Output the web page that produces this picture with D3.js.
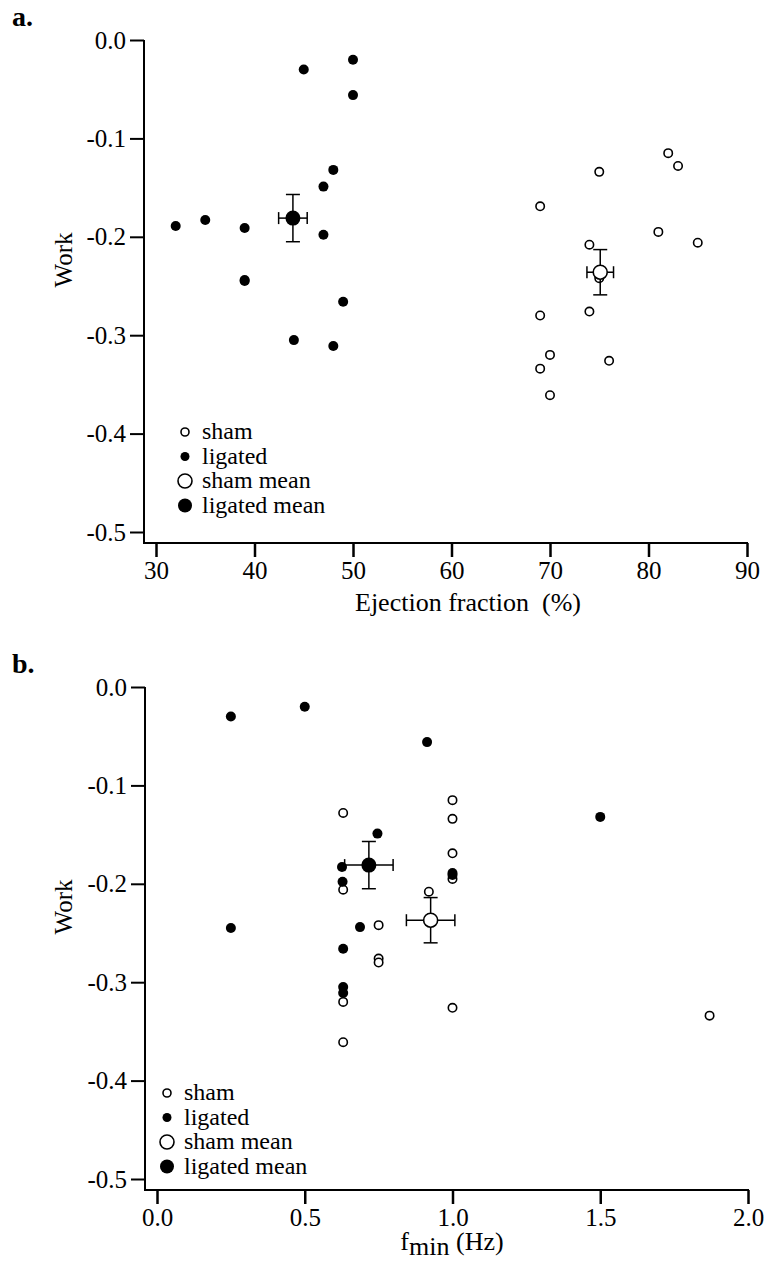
<!DOCTYPE html>
<html>
<head>
<meta charset="utf-8">
<script src="https://cdn.jsdelivr.net/npm/d3@7/dist/d3.min.js"></script>
<style>
  html, body { margin: 0; padding: 0; background: #fff; }
  svg { display: block; }
</style>
</head>
<body>
<svg id="chart" width="769" height="1262"></svg>
<script>
// Work per animal (sham group) with ejection fraction and f_min
const shamWork = [-0.115, -0.128, -0.134, -0.169, -0.195, -0.206, -0.208, -0.242, -0.276, -0.280, -0.320, -0.334, -0.326, -0.361];
const shamEF   = [82, 83, 75, 69, 81, 85, 74, 75, 74, 69, 70, 69, 76, 70];
const shamFmin = [1.0, 0.63, 1.0, 1.0, 1.0, 0.63, 0.92, 0.75, 0.75, 0.75, 0.63, 1.87, 1.0, 0.63];

// Work per animal (ligated group)
const ligWork = [-0.030, -0.020, -0.056, -0.132, -0.149, -0.189, -0.183, -0.191, -0.198, -0.245, -0.266, -0.305, -0.311, -0.244];
const ligEF   = [45, 50, 50, 48, 47, 32, 35, 39, 47, 39, 49, 44, 48, 39];
const ligFmin = [0.25, 0.50, 0.914, 1.5, 0.746, 1.0, 0.626, 1.0, 0.628, 0.25, 0.63, 0.63, 0.63, 0.687];

// Group means with standard errors: [x, y, xErr, yErr]
const shamMeanA = [75.1, -0.236, 1.35, 0.023];
const ligMeanA  = [43.9, -0.181, 1.45, 0.024];
const shamMeanB = [0.926, -0.237, 0.082, 0.023];
const ligMeanB  = [0.717, -0.181, 0.082, 0.024];

// Axis ticks
const workTicks = [0.0, -0.1, -0.2, -0.3, -0.4, -0.5];
const efTicks   = [30, 40, 50, 60, 70, 80, 90];
const fminTicks = [0.0, 0.5, 1.0, 1.5, 2.0];

const legendItems = ["sham", "ligated", "sham mean", "ligated mean"];

const FONT = '"Liberation Serif", "Times New Roman", Times, "DejaVu Serif", serif';
const svg = d3.select("#chart");

function panel(opts) {
  const g = svg.append("g");
  const x = d3.scaleLinear().domain(opts.xDomain).range(opts.xRange);
  const y = d3.scaleLinear().domain([0, -0.5]).range([opts.top, opts.top + 492]);
  const axisY = opts.top + 503;
  const axisX = opts.axisX;

  // axis lines
  g.append("line").attr("x1", axisX).attr("x2", axisX)
    .attr("y1", opts.top).attr("y2", axisY)
    .attr("stroke", "#000").attr("stroke-width", 2);
  g.append("line").attr("x1", axisX - 1).attr("x2", opts.xRange[1] + 1)
    .attr("y1", axisY).attr("y2", axisY)
    .attr("stroke", "#000").attr("stroke-width", 2);

  // y axis
  const yAxis = d3.axisLeft(y).tickValues(workTicks).tickSize(14).tickPadding(4)
    .tickFormat(d => d === 0 ? "0.0" : d3.format(".1f")(d).replace("\u2212", "-"));
  const gy = g.append("g").attr("transform", `translate(${axisX},0)`).call(yAxis);
  gy.select(".domain").remove();
  gy.selectAll(".tick line").attr("stroke-width", 2);

  // x axis
  const xAxis = d3.axisBottom(x).tickValues(opts.xTicks).tickSize(14).tickPadding(4)
    .tickFormat(opts.xFormat);
  const gx = g.append("g").attr("transform", `translate(0,${axisY})`).call(xAxis);
  gx.select(".domain").remove();
  gx.selectAll(".tick line").attr("stroke-width", 2.5);

  [gy, gx].forEach(a => {
    a.attr("font-family", null).attr("font-size", null);
    a.selectAll(".tick text").style("font-family", FONT).style("font-size", "25px")
      .attr("fill", "#000");
    a.selectAll(".tick line").attr("stroke", "#000");
  });

  // y label
  g.append("text")
    .attr("transform", `translate(${opts.workLabelX},${opts.top + 220}) rotate(-90)`)
    .attr("text-anchor", "middle").style("font-family", FONT).style("font-size", "25px")
    .text("Work");

  // panel letter
  g.append("text").attr("x", 12).attr("y", opts.top - 14)
    .style("font-family", FONT).style("font-size", "28px").style("font-weight", "bold")
    .text(opts.letter);

  // individual animals
  const sham = d3.zip(opts.shamX, shamWork);
  const lig = d3.zip(opts.ligX, ligWork);
  g.selectAll(".sham").data(sham).join("circle")
    .attr("cx", d => x(d[0])).attr("cy", d => y(d[1])).attr("r", 4.2)
    .attr("fill", "#fff").attr("stroke", "#000").attr("stroke-width", 1.6);
  g.selectAll(".lig").data(lig).join("circle")
    .attr("cx", d => x(d[0])).attr("cy", d => y(d[1])).attr("r", 5)
    .attr("fill", "#000");

  // group means with error bars
  function mean(m, filled) {
    const [mx, my, ex, ey] = m;
    const cx = x(mx), cy = y(my);
    const x0 = x(mx - ex), x1 = x(mx + ex), y0 = y(my + ey), y1 = y(my - ey);
    const eb = g.append("g").attr("stroke", "#000").attr("stroke-width", 1.5);
    eb.append("line").attr("x1", x0).attr("x2", x1).attr("y1", cy).attr("y2", cy);
    eb.append("line").attr("x1", x0).attr("x2", x0).attr("y1", cy - 6).attr("y2", cy + 6);
    eb.append("line").attr("x1", x1).attr("x2", x1).attr("y1", cy - 6).attr("y2", cy + 6);
    eb.append("line").attr("x1", cx).attr("x2", cx).attr("y1", y0).attr("y2", y1);
    eb.append("line").attr("x1", cx - 7).attr("x2", cx + 7).attr("y1", y0).attr("y2", y0);
    eb.append("line").attr("x1", cx - 7).attr("x2", cx + 7).attr("y1", y1).attr("y2", y1);
    g.append("circle").attr("cx", cx).attr("cy", cy).attr("r", filled ? 7.5 : 7)
      .attr("fill", filled ? "#000" : "#fff").attr("stroke", "#000")
      .attr("stroke-width", filled ? 0 : 1.6);
  }
  mean(opts.shamMean, false);
  mean(opts.ligMean, true);

  // legend
  const lg = g.append("g");
  legendItems.forEach((name, i) => {
    const ly = opts.legendTop + i * 24.5;
    const big = i >= 2, filled = i % 2 === 1;
    lg.append("circle").attr("cx", opts.legendX).attr("cy", ly)
      .attr("r", big ? 7 : (filled ? 4.5 : 4))
      .attr("fill", filled ? "#000" : "#fff").attr("stroke", "#000")
      .attr("stroke-width", filled ? 0 : 1.6);
    lg.append("text").attr("x", opts.legendX + 17).attr("y", ly + 7)
      .style("font-family", FONT).style("font-size", "24px").text(name);
  });

  return { g, x, axisY };
}

// Panel a: work vs ejection fraction
const pa = panel({
  letter: "a.", top: 40, axisX: 144,
  xDomain: [30, 90], xRange: [156, 747], xTicks: efTicks, xFormat: d3.format("d"),
  shamX: shamEF, ligX: ligEF, shamMean: shamMeanA, ligMean: ligMeanA,
  legendX: 185, legendTop: 432, workLabelX: 72
});
pa.g.append("text").attr("x", 468).attr("y", 611).attr("text-anchor", "middle")
  .style("font-family", FONT).style("font-size", "26px").style("white-space", "pre")
  .text("Ejection fraction  (%)");

// Panel b: work vs f_min
const pb = panel({
  letter: "b.", top: 687, axisX: 145,
  xDomain: [0, 2], xRange: [157, 748], xTicks: fminTicks, xFormat: d3.format(".1f"),
  shamX: shamFmin, ligX: ligFmin, shamMean: shamMeanB, ligMean: ligMeanB,
  legendX: 167, legendTop: 1093, workLabelX: 72
});
const tb = pb.g.append("text").attr("x", 452).attr("y", 1250).attr("text-anchor", "middle")
  .style("font-family", FONT).style("font-size", "26px");
tb.append("tspan").text("f");
tb.append("tspan").attr("dy", 5).text("min");
tb.append("tspan").attr("dy", -5).text(" (Hz)");
</script>
</body>
</html>
